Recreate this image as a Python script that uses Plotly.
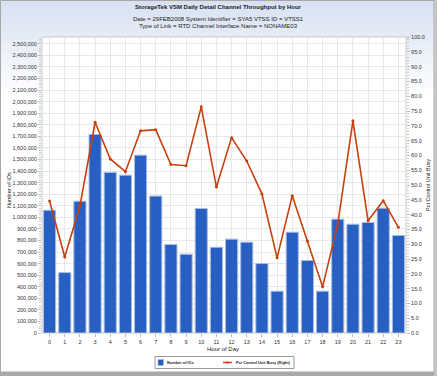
import plotly.graph_objects as go

hours = list(range(24))
hour_labels = [str(h) for h in hours]
num_ios = [1061000, 522000, 1139000, 1716000, 1388000, 1364000, 1537000, 1183000,
           765000, 681000, 1076000, 741000, 811000, 785000, 600000, 361000,
           871000, 626000, 361000, 984000, 940000, 955000, 1079000, 843000]
pct_busy = [44.6, 25.7, 42.9, 71.2, 58.8, 54.5, 68.3, 68.7, 56.9, 56.5, 76.4, 49.3,
            66.0, 58.1, 47.0, 25.4, 46.4, 31.1, 15.6, 36.8, 71.7, 37.9, 44.7, 35.7]
left_ticks = list(range(0, 2500001, 100000))
right_ticks = [i * 5 for i in range(21)]
bar_name = "Number of IOs"
line_name = "Pct Control Unit Busy (Right)"

W, H = 437, 376
ml, mr, mt, mb = 42, 31, 37, 43
pw, ph = W - ml - mr, H - mt - mb

def px(x):
    return (x - ml) / pw

def py(y):
    return (H - mb - y) / ph

FONT = "Liberation Sans, Arial, sans-serif"
BAR_C = "#2760c2"
LINE_C = "#c8400f"

fig = go.Figure()
fig.add_trace(go.Bar(
    x=hours, y=num_ios, name=bar_name,
    marker=dict(color=BAR_C, line=dict(color="#a9bde0", width=1)),
    yaxis="y",
))
fig.add_trace(go.Scatter(
    x=hours, y=pct_busy, name=line_name,
    mode="lines+markers",
    line=dict(color=LINE_C, width=1.6),
    marker=dict(color=LINE_C, size=3),
    yaxis="y2",
))

shapes = []
n = 24
for i in range(n):
    y0 = i * 4
    y1 = y0 + 4
    op = max(0, 1 - i / n)
    shapes.append(dict(type="rect", xref="paper", yref="paper",
                       x0=px(0), x1=px(W), y0=py(y1), y1=py(y0),
                       fillcolor="#d3def0", opacity=op * 0.9,
                       line=dict(width=0), layer="below"))
shapes.append(dict(type="rect", xref="paper", yref="paper", x0=0, x1=1, y0=0, y1=1,
                   fillcolor="white", line=dict(color="#c8c8c8", width=1), layer="below"))
shapes.append(dict(type="rect", xref="paper", yref="paper",
                   x0=px(0.5), x1=px(W - 3), y0=py(H - 4), y1=py(0.5),
                   line=dict(color="#a8a8a8", width=1), fillcolor="rgba(0,0,0,0)"))
shapes.append(dict(type="rect", xref="paper", yref="paper",
                   x0=px(0), x1=px(W), y0=py(H), y1=py(H - 4),
                   line=dict(width=0), fillcolor="#a9a9a9"))
shapes.append(dict(type="rect", xref="paper", yref="paper",
                   x0=px(W - 3), x1=px(W), y0=py(H), y1=py(0),
                   line=dict(width=0), fillcolor="#c4c4c4"))
# manual legend
shapes.append(dict(type="rect", xref="paper", yref="paper",
                   x0=px(155), x1=px(294), y0=py(368.5), y1=py(356.5),
                   fillcolor="white", line=dict(color="#9a9a9a", width=1)))
shapes.append(dict(type="rect", xref="paper", yref="paper",
                   x0=px(158), x1=px(163.5), y0=py(365.5), y1=py(359.5),
                   fillcolor=BAR_C, line=dict(color="#a9bde0", width=0.5)))
shapes.append(dict(type="line", xref="paper", yref="paper",
                   x0=px(223), x1=px(232), y0=py(362.5), y1=py(362.5),
                   line=dict(color=LINE_C, width=1.4)))
shapes.append(dict(type="rect", xref="paper", yref="paper",
                   x0=px(226.5), x1=px(228.5), y0=py(363.5), y1=py(361.5),
                   fillcolor=LINE_C, line=dict(width=0)))

def ann(text, x, y, size=6, angle=0, bold=False, xanchor="center"):
    t = f"<b>{text}</b>" if bold else text
    return dict(text=t, xref="paper", yref="paper", x=px(x), y=py(y), showarrow=False,
                font=dict(size=size, color="#222", family=FONT), textangle=angle,
                xanchor=xanchor, yanchor="middle")

annotations = [
    ann("StorageTek VSM Daily Detail Channel Throughput by Hour", W / 2, 7, 6, bold=True),
    ann("Date = 29FEB2008 System Identifier = SYA5 VTSS ID = VTSS1", W / 2, 18.5, 6),
    ann("Type of Link = RTD Channel Interface Name = NONAME03", W / 2, 25.5, 6),
    ann("Number of IOs", 9, 190, 5.5, angle=-90),
    ann("Pct Control Unit Busy", 428, 185, 5.5, angle=-90),
    ann("Hour of Day", 223, 349, 6),
    ann(bar_name, 165, 362.5, 3.9, bold=True, xanchor="left"),
    ann(line_name, 234, 362.5, 3.9, bold=True, xanchor="left"),
]

fig.update_layout(
    width=W, height=H,
    margin=dict(l=ml, r=mr, t=mt, b=mb, autoexpand=False),
    paper_bgcolor="white", plot_bgcolor="rgba(0,0,0,0)",
    font=dict(family=FONT, size=5, color="#333"),
    bargap=0.2,
    showlegend=False,
    xaxis=dict(range=[-0.5, 23.5], tickmode="array", tickvals=hours, ticktext=hour_labels,
               showgrid=True, gridcolor="#e8e8e8", gridwidth=1, zeroline=False,
               ticks="outside", ticklen=3, tickcolor="#bbb", automargin=False,
               tickfont=dict(size=5.5, color="#333"), showline=False),
    yaxis=dict(range=[0, 2558000], tickmode="array", tickvals=left_ticks,
               ticktext=[f"{v:,}" for v in left_ticks], automargin=False,
               showgrid=True, gridcolor="#e8e8e8", gridwidth=1, zeroline=False,
               ticks="outside", ticklen=3, tickcolor="#bbb",
               minor=dict(dtick=20000, ticks="outside", ticklen=2, tickcolor="#ccc", showgrid=False),
               tickfont=dict(size=5.5, color="#333")),
    yaxis2=dict(range=[0, 100], overlaying="y", side="right", tickmode="array",
                tickvals=right_ticks, ticktext=[f"{v:.1f}" for v in right_ticks],
                showgrid=False, zeroline=False, automargin=False,
                ticks="outside", ticklen=3, tickcolor="#bbb",
                minor=dict(dtick=1, ticks="outside", ticklen=2, tickcolor="#ccc", showgrid=False),
                tickfont=dict(size=5.5, color="#333")),
    shapes=shapes,
    annotations=annotations,
)

fig.write_html("out.html", config={"displayModeBar": False},
               post_script="document.body.style.margin='0';document.body.style.overflow='hidden';")
